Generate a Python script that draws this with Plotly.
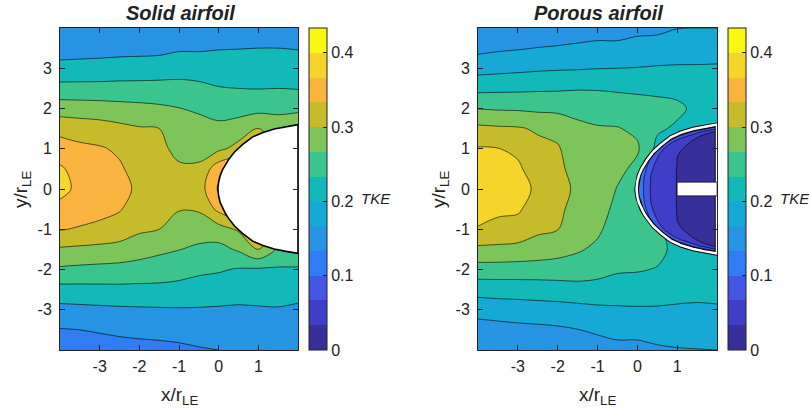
import plotly.graph_objects as go

# ---- grid of the measured field (x/r_LE, y/r_LE) ----
x_nodes = [-4, -3.5, -3, -2.5, -2, -1.5, -1, -0.5, 0, 0.5, 1, 1.5, 2]
y_nodes = [4, 3.5, 3, 2.5, 2, 1.5, 1, 0.5, 0, -0.5, -1, -1.5, -2, -2.5, -3, -3.5, -4]

# turbulent kinetic energy, solid airfoil (rows follow y_nodes, columns follow x_nodes)
solid_tke = [
    [0.140, 0.140, 0.140, 0.140, 0.140, 0.140, 0.140, 0.140, 0.145, 0.145, 0.145, 0.145, 0.148],
    [0.150, 0.152, 0.154, 0.156, 0.157, 0.158, 0.165, 0.165, 0.168, 0.169, 0.170, 0.170, 0.168],
    [0.184, 0.185, 0.186, 0.188, 0.189, 0.191, 0.194, 0.193, 0.190, 0.189, 0.190, 0.190, 0.190],
    [0.222, 0.222, 0.222, 0.223, 0.223, 0.223, 0.223, 0.219, 0.212, 0.210, 0.209, 0.210, 0.208],
    [0.272, 0.270, 0.268, 0.264, 0.261, 0.257, 0.251, 0.245, 0.236, 0.234, 0.237, 0.241, 0.245],
    [0.316, 0.311, 0.307, 0.300, 0.293, 0.290, 0.266, 0.263, 0.259, 0.270, 0.292, 0.270, 0.270],
    [0.350, 0.339, 0.334, 0.324, 0.304, 0.298, 0.281, 0.278, 0.282, 0.302, 0.310, 0.280, 0.270],
    [0.375, 0.356, 0.346, 0.335, 0.315, 0.307, 0.295, 0.296, 0.355, 0.360, 0.300, 0.280, 0.270],
    [0.380, 0.362, 0.351, 0.338, 0.325, 0.315, 0.305, 0.310, 0.375, 0.370, 0.300, 0.280, 0.270],
    [0.360, 0.346, 0.340, 0.333, 0.310, 0.302, 0.292, 0.294, 0.340, 0.360, 0.300, 0.280, 0.260],
    [0.332, 0.327, 0.322, 0.312, 0.296, 0.290, 0.272, 0.268, 0.274, 0.295, 0.310, 0.280, 0.255],
    [0.285, 0.282, 0.279, 0.276, 0.268, 0.258, 0.251, 0.243, 0.238, 0.255, 0.290, 0.245, 0.245],
    [0.244, 0.241, 0.239, 0.237, 0.233, 0.230, 0.226, 0.218, 0.214, 0.207, 0.205, 0.205, 0.205],
    [0.197, 0.198, 0.199, 0.200, 0.200, 0.200, 0.197, 0.192, 0.189, 0.185, 0.183, 0.182, 0.180],
    [0.158, 0.160, 0.162, 0.164, 0.165, 0.166, 0.167, 0.167, 0.166, 0.165, 0.167, 0.168, 0.165],
    [0.128, 0.130, 0.133, 0.136, 0.138, 0.141, 0.144, 0.146, 0.150, 0.152, 0.155, 0.157, 0.155],
    [0.110, 0.113, 0.115, 0.118, 0.120, 0.120, 0.122, 0.127, 0.130, 0.135, 0.140, 0.143, 0.145],
]

# turbulent kinetic energy, porous airfoil
porous_tke = [
    [0.165, 0.167, 0.169, 0.170, 0.172, 0.176, 0.180, 0.183, 0.188, 0.190, 0.199, 0.200, 0.200],
    [0.189, 0.194, 0.197, 0.201, 0.204, 0.208, 0.212, 0.210, 0.217, 0.219, 0.221, 0.222, 0.222],
    [0.225, 0.228, 0.231, 0.234, 0.236, 0.237, 0.239, 0.240, 0.241, 0.243, 0.244, 0.244, 0.245],
    [0.269, 0.271, 0.272, 0.274, 0.275, 0.277, 0.277, 0.275, 0.274, 0.273, 0.270, 0.262, 0.260],
    [0.319, 0.316, 0.315, 0.312, 0.311, 0.311, 0.305, 0.300, 0.294, 0.290, 0.287, 0.272, 0.265],
    [0.369, 0.366, 0.364, 0.355, 0.348, 0.327, 0.323, 0.322, 0.313, 0.285, 0.275, 0.265, 0.260],
    [0.403, 0.401, 0.394, 0.371, 0.364, 0.336, 0.331, 0.335, 0.325, 0.270, 0.260, 0.260, 0.250],
    [0.415, 0.408, 0.405, 0.384, 0.369, 0.345, 0.338, 0.330, 0.310, 0.250, 0.250, 0.250, 0.250],
    [0.424, 0.415, 0.410, 0.395, 0.375, 0.352, 0.345, 0.318, 0.295, 0.250, 0.250, 0.250, 0.250],
    [0.411, 0.406, 0.405, 0.381, 0.367, 0.348, 0.336, 0.310, 0.300, 0.250, 0.250, 0.250, 0.250],
    [0.398, 0.391, 0.385, 0.367, 0.361, 0.333, 0.326, 0.303, 0.298, 0.285, 0.260, 0.260, 0.250],
    [0.351, 0.350, 0.348, 0.343, 0.335, 0.324, 0.313, 0.297, 0.293, 0.290, 0.270, 0.265, 0.260],
    [0.303, 0.303, 0.302, 0.301, 0.301, 0.301, 0.293, 0.284, 0.283, 0.278, 0.262, 0.260, 0.258],
    [0.255, 0.257, 0.258, 0.260, 0.262, 0.265, 0.266, 0.264, 0.260, 0.258, 0.250, 0.249, 0.250],
    [0.216, 0.219, 0.221, 0.223, 0.225, 0.228, 0.232, 0.234, 0.236, 0.236, 0.236, 0.235, 0.236],
    [0.181, 0.185, 0.189, 0.191, 0.194, 0.199, 0.205, 0.210, 0.210, 0.214, 0.215, 0.216, 0.218],
    [0.165, 0.168, 0.170, 0.172, 0.175, 0.180, 0.185, 0.190, 0.190, 0.195, 0.198, 0.199, 0.200],
]

# leading-edge profile (upper surface, mirrored for the lower one)
profile_x = [-0.02, 0.0, 0.04, 0.1, 0.17, 0.25, 0.4, 0.6, 0.85, 1.1, 1.4, 1.7, 2.0]
profile_y = [0.0, 0.18, 0.34, 0.48, 0.61, 0.73, 0.92, 1.1, 1.29, 1.4, 1.49, 1.55, 1.6]

# inner TKE regions of the porous leading edge (upper halves, outermost first)
porous_b2_x = [0.15, 0.17, 0.22, 0.3, 0.45, 0.7, 1.0, 1.4, 2.0]
porous_b2_y = [0.0, 0.3, 0.5, 0.7, 0.9, 1.13, 1.3, 1.43, 1.55]
porous_b1_x = [0.32, 0.34, 0.43, 0.55, 0.68, 0.88, 1.09, 1.59, 2.0]
porous_b1_y = [0.0, 0.35, 0.62, 0.86, 1.02, 1.16, 1.26, 1.42, 1.5]
porous_b0_x = [0.98, 0.98, 1.0, 1.08, 1.18, 1.38, 1.59, 2.0]
porous_b0_y = [0.0, 0.4, 0.79, 0.93, 1.04, 1.2, 1.32, 1.45]

# slot in the porous model
slot_x = [1.0, 2.0]
slot_y = [-0.17, 0.17]

# colour levels
cbar_edges = [0, 0.1, 0.2, 0.3, 0.4]
parula13 = ['#37309a', '#3f3ec8', '#4456e6', '#2f7cf3', '#2694e2', '#17a9d6', '#13b9b9',
            '#3cc48e', '#7dc55b', '#c6bc2b', '#f9b43f', '#f5d52b', '#f8f812']
solid_levels = dict(start=0.13, end=0.3701, size=0.04)
solid_bands = [3, 4, 6, 7, 8, 9, 10, 11]
porous_levels = dict(start=0.04, end=0.4001, size=0.04)
porous_bands = [0, 1, 2, 3, 4, 5, 6, 7, 8, 9, 11]


def stepped(colors):
    n = len(colors)
    out = []
    for k, c in enumerate(colors):
        out.append([k / n, c])
        out.append([(k + 1) / n, c])
    return out


def closed(xs, ys):
    px = list(reversed(xs)) + xs[1:]
    py = list(reversed(ys)) + [-v for v in ys[1:]]
    return px + [px[0]], py + [py[0]]


FONT = 'Liberation Sans, Arial, sans-serif'
INK = '#222'
fig = go.Figure()

panels = [
    ('x', 'y', solid_tke, solid_levels, solid_bands),
    ('x2', 'y2', porous_tke, porous_levels, porous_bands),
]
for xa, ya, z, lev, bands in panels:
    fig.add_trace(go.Contour(
        x=x_nodes, y=y_nodes, z=z, xaxis=xa, yaxis=ya,
        contours=dict(coloring='fill', showlines=True, **lev),
        colorscale=stepped([parula13[i] for i in bands]),
        line=dict(color='black', width=0.6, smoothing=1.0),
        showscale=False, hoverinfo='skip'))

# solid airfoil body
ax, ay = closed(profile_x, profile_y)
fig.add_trace(go.Scatter(x=ax, y=ay, xaxis='x', yaxis='y', mode='lines',
                         fill='toself', fillcolor='white',
                         line=dict(color='black', width=1.6), hoverinfo='skip', showlegend=False))

# porous airfoil: inner regions
fig.add_trace(go.Scatter(x=ax, y=ay, xaxis='x2', yaxis='y2', mode='lines',
                         fill='toself', fillcolor=parula13[3],
                         line=dict(color='black', width=0), hoverinfo='skip', showlegend=False))
for rx, ry, band in [(porous_b2_x, porous_b2_y, 2), (porous_b1_x, porous_b1_y, 1),
                     (porous_b0_x, porous_b0_y, 0)]:
    px_, py_ = closed(rx, ry)
    fig.add_trace(go.Scatter(x=px_, y=py_, xaxis='x2', yaxis='y2', mode='lines',
                             fill='toself', fillcolor=parula13[band],
                             line=dict(color='black', width=0.6), hoverinfo='skip', showlegend=False))
# outline of the porous surface
fig.add_trace(go.Scatter(x=ax, y=ay, xaxis='x2', yaxis='y2', mode='lines',
                         line=dict(color='black', width=4.5), hoverinfo='skip', showlegend=False))
fig.add_trace(go.Scatter(x=ax, y=ay, xaxis='x2', yaxis='y2', mode='lines',
                         line=dict(color='white', width=2.5), hoverinfo='skip', showlegend=False))
fig.add_shape(type='rect', xref='x2', yref='y2', x0=slot_x[0], x1=slot_x[1],
              y0=slot_y[0], y1=slot_y[1], fillcolor='white', line=dict(color='black', width=0.6))

# colour bars
cb_common = dict(
    thickness=18, len=322 / 414, lenmode='fraction', y=64 / 414, yanchor='bottom',
    xanchor='left', xpad=0, ypad=0, outlinewidth=1, outlinecolor=INK,
    tickvals=cbar_edges, ticktext=['0', '0.1', '0.2', '0.3', '0.4'],
    ticks='inside', ticklen=4, tickcolor=INK,
    tickfont=dict(family=FONT, size=16, color=INK))
for xa, ya, cbx in [('x', 'y', 309 / 809), ('x2', 'y2', 728 / 809)]:
    fig.add_trace(go.Scatter(
        x=[None], y=[None], xaxis=xa, yaxis=ya, mode='markers', showlegend=False,
        marker=dict(color=[0.2], cmin=0, cmax=13 / 30, colorscale=stepped(parula13),
                    showscale=True, colorbar=dict(x=cbx, **cb_common))))

axis_common = dict(
    showline=True, linecolor=INK, linewidth=1, mirror='ticks', ticks='inside',
    ticklen=5, tickcolor=INK, showgrid=False, zeroline=False,
    tickfont=dict(family=FONT, size=16, color=INK))
xticks = dict(tickvals=[-3, -2, -1, 0, 1], ticktext=['-3', '-2', '-1', '0', '1'],
              ticklabelstandoff=2)
yticks = dict(tickvals=[-3, -2, -1, 0, 1, 2, 3], ticktext=['-3', '-2', '-1', '0', '1', '2', '3'],
              ticklabelstandoff=4)
ydom = [64 / 414, 386 / 414]
fig.update_layout(
    width=809, height=414, margin=dict(l=0, r=0, t=0, b=0),
    paper_bgcolor='white', plot_bgcolor='white',
    xaxis=dict(domain=[60 / 809, 298 / 809], range=[-4, 2], anchor='y', **xticks, **axis_common),
    yaxis=dict(domain=ydom, range=[-4, 4], anchor='x', **yticks, **axis_common),
    xaxis2=dict(domain=[478 / 809, 717 / 809], range=[-4, 2], anchor='y2', **xticks, **axis_common),
    yaxis2=dict(domain=ydom, range=[-4, 4], anchor='x2', **yticks, **axis_common),
    showlegend=False,
)

ann = []


def label(x, y, text, size, angle=0):
    ann.append(dict(x=x / 809, y=1 - y / 414, xref='paper', yref='paper', showarrow=False,
                    xanchor='center', yanchor='middle', textangle=angle, text=text,
                    font=dict(family=FONT, size=size, color=INK)))


for cx_, title in [(180, 'Solid airfoil'), (598, 'Porous airfoil')]:
    label(cx_, 13, '<b><i>%s</i></b>' % title, 20)
    label(cx_, 396, 'x/r<sub>LE</sub>', 19)
for lx in [22, 440]:
    label(lx, 189, 'y/r<sub>LE</sub>', 19, -90)
for tx in [376, 795]:
    label(tx, 198, '<i>TKE</i>', 15)
fig.update_layout(annotations=ann)

fig.write_html('out.html')
